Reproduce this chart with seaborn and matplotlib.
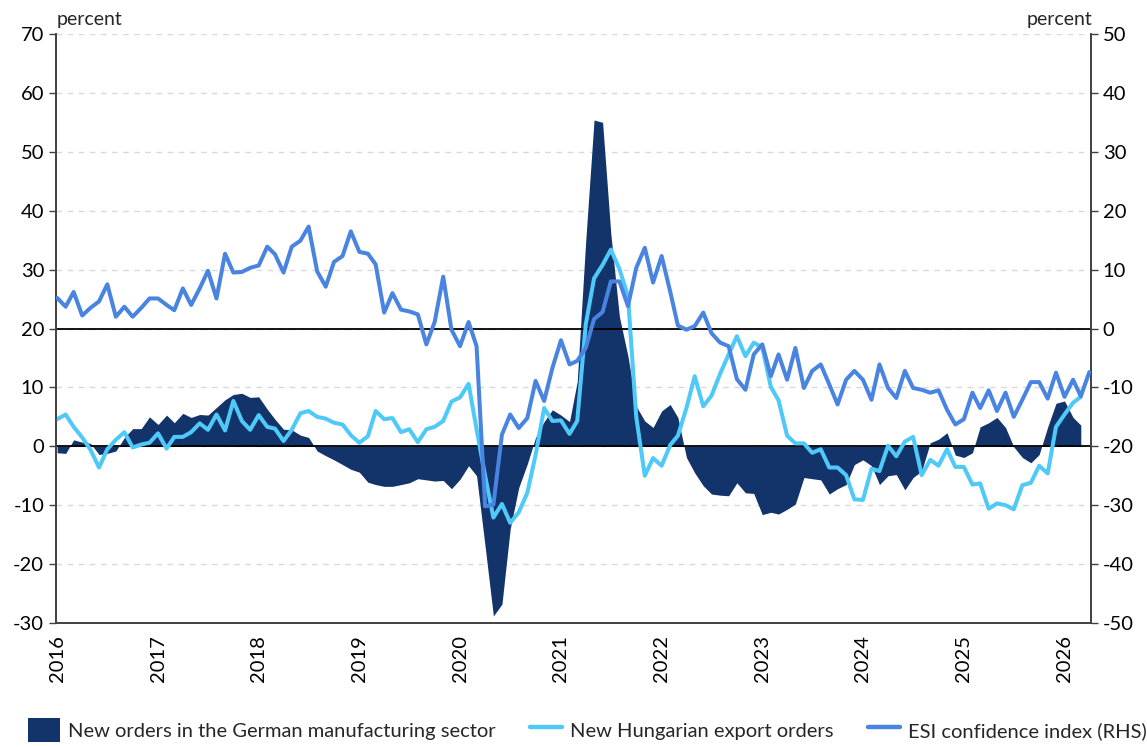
import pandas as pd
import matplotlib.pyplot as plt
import seaborn as sns
from matplotlib.patches import Patch
from matplotlib.lines import Line2D

# monthly data, Jan 2016 onwards
months = pd.date_range('2016-01-01', periods=124, freq='MS')

# New orders in German manufacturing (left axis, % yoy) - Jan 2016 .. Mar 2026
german = [-1.1, -1.2, 1.1, 0.7, 0.5, -1.4, -1.2, -0.8, 1.5, 3.0, 3.0, 5.0,
          3.7, 5.3, 4.0, 5.6, 4.9, 5.4, 5.3, 6.6, 7.9, 8.8, 9.0, 8.3,
          8.4, 6.3, 4.6, 2.9, 2.8, 1.9, 1.5, -0.8, -1.6, -2.3, -3.1, -3.9,
          -4.4, -6.1, -6.5, -6.8, -6.8, -6.5, -6.2, -5.5, -5.7, -5.9, -5.8, -7.2,
          -5.6, -3.3, -5.0, -17.0, -28.8, -26.8, -14.0, -7.0, -3.0, 1.5, 4.2, 6.2,
          5.3, 4.2, 11.0, 35.0, 55.4, 55.0, 36.0, 22.0, 15.3, 6.8, 4.3, 3.2,
          6.0, 7.1, 4.9, -1.9, -4.5, -6.7, -8.1, -8.3, -8.4, -6.2, -7.9, -8.0,
          -11.6, -11.2, -11.5, -10.7, -9.8, -5.3, -5.5, -5.7, -8.1, -7.2, -6.5, -3.1,
          -2.3, -3.3, -6.5, -5.0, -4.8, -7.4, -5.3, -4.2, 0.6, 1.2, 2.3, -1.5,
          -1.9, -1.1, 3.3, 4.0, 4.9, 3.2, -0.1, -1.9, -2.8, -1.4, 3.3, 7.3,
          7.7, 4.9, 3.6]

# New Hungarian export orders (left axis) - Jan 2016 .. Mar 2026
hungary = [4.6, 5.4, 3.3, 1.5, -0.6, -3.6, -0.5, 1.1, 2.4, -0.2, 0.3, 0.6,
           2.2, -0.4, 1.6, 1.6, 2.4, 3.9, 2.8, 5.4, 2.7, 7.7, 4.3, 2.8,
           5.3, 3.3, 3.0, 0.9, 2.8, 5.6, 6.0, 5.0, 4.7, 4.0, 3.7, 1.9,
           0.6, 1.7, 6.0, 4.6, 4.8, 2.4, 2.9, 0.7, 2.9, 3.3, 4.3, 7.6,
           8.3, 10.6, 2.9, -5.0, -12.1, -9.8, -13.0, -11.2, -7.9, -1.5, 6.5, 4.3,
           4.4, 2.1, 4.3, 20.7, 28.5, 30.8, 33.4, 30.1, 25.5, 5.0, -5.0, -2.0,
           -3.3, 0.2, 1.8, 6.5, 11.9, 6.8, 8.6, 12.3, 15.6, 18.7, 15.3, 17.6,
           16.8, 10.1, 7.8, 1.8, 0.5, 0.5, -1.1, -0.5, -3.6, -3.6, -4.9, -9.0,
           -9.1, -3.8, -4.2, 0.1, -1.7, 0.8, 1.6, -4.9, -2.3, -3.3, -0.5, -3.5,
           -3.5, -6.5, -6.3, -10.6, -9.7, -10.0, -10.7, -6.6, -6.2, -3.3, -4.6, 3.3,
           5.4, 7.4, 8.4]

# ESI confidence index (right axis) - Jan 2016 .. Apr 2026
esi = [5.2, 3.7, 6.2, 2.2, 3.5, 4.6, 7.5, 2.0, 3.7, 2.0, 3.5, 5.1,
       5.1, 4.0, 3.1, 6.8, 4.0, 6.8, 9.8, 5.1, 12.7, 9.5, 9.6, 10.3,
       10.7, 13.9, 12.6, 9.5, 13.9, 14.9, 17.3, 9.7, 7.1, 11.3, 12.3, 16.5,
       13.0, 12.7, 10.9, 2.7, 6.0, 3.2, 2.9, 2.4, -2.7, 1.1, 8.8, -0.2,
       -3.0, 1.1, -3.0, -30.2, -29.9, -18.0, -14.6, -16.9, -15.2, -8.9, -12.3, -6.7,
       -2.0, -6.1, -5.5, -3.3, 1.6, 2.8, 8.0, 8.0, 3.8, 10.3, 13.7, 7.8,
       12.3, 6.3, 0.5, -0.2, 0.4, 2.7, -0.8, -2.4, -3.0, -8.6, -10.4, -4.4,
       -2.7, -8.1, -4.4, -8.7, -3.3, -10.1, -7.2, -6.1, -9.5, -12.9, -8.7, -7.2,
       -8.7, -12.1, -6.1, -10.1, -11.8, -7.2, -10.1, -10.4, -10.9, -10.5, -13.8, -16.3,
       -15.4, -10.9, -13.5, -10.5, -14.0, -10.9, -15.0, -12.1, -9.1, -9.1, -11.9, -7.5,
       -11.6, -8.7, -11.5, -7.4]

years = list(range(2016, 2027))

navy = '#13336b'
light_blue = '#4fc9f8'
mid_blue = '#4a84e1'

sns.set_style('white')
plt.rcParams['font.family'] = ['Lato', 'DejaVu Sans']
plt.rcParams['font.size'] = 14.5
plt.rcParams['axes.unicode_minus'] = False

fig = plt.figure(figsize=(11.47, 7.47), dpi=100)
ax = fig.add_axes([56 / 1147, 1 - 623 / 747, (1091 - 56) / 1147, (623 - 34) / 747])
ax2 = ax.twinx()

df_de = pd.DataFrame({'date': months[:len(german)], 'value': german})
df_hu = pd.DataFrame({'date': months[:len(hungary)], 'value': hungary})
df_esi = pd.DataFrame({'date': months[:len(esi)], 'value': esi})

# grid + reference lines
ax.yaxis.grid(True, linestyle=(0, (4, 4)), color='#d9d9d9', linewidth=1)
ax.set_axisbelow(True)
ax.fill_between(df_de['date'], 0, df_de['value'], color=navy, linewidth=0, zorder=2)
ax.axhline(0, color='black', linewidth=1.3, zorder=2.5)
ax.axhline(20, color='black', linewidth=1.3, zorder=2.5)
sns.lineplot(data=df_hu, x='date', y='value', ax=ax, color=light_blue, linewidth=2.9, zorder=3)
sns.lineplot(data=df_esi, x='date', y='value', ax=ax2, color=mid_blue, linewidth=2.9, zorder=3)

ax.set_ylim(-30, 70)
ax2.set_ylim(-50, 50)
ax.set_yticks(range(-30, 71, 10))
ax2.set_yticks(range(-50, 51, 10))
ax.set_xlim(months[0] - pd.Timedelta(days=4), months[123] + pd.Timedelta(days=6))

ax.set_xticks([pd.Timestamp(f'{y}-01-01') for y in years])
ax.set_xticklabels([str(y) for y in years], rotation=90)
ax.set_xlabel('')
ax.set_ylabel('')
ax2.set_ylabel('')

for a in (ax, ax2):
    a.tick_params(axis='both', direction='out', length=5, width=1, colors='#404040',
                  labelcolor='black', labelsize=14.5)
    a.spines['top'].set_visible(False)
    for s in ('left', 'right', 'bottom'):
        a.spines[s].set_color('#404040')
        a.spines[s].set_linewidth(1.2)
ax.tick_params(axis='x', pad=4)

fig.text(57 / 1147, 1 - 20 / 747, 'percent', ha='left', va='center', fontsize=14)
fig.text(1092 / 1147, 1 - 20 / 747, 'percent', ha='right', va='center', fontsize=14)

handles = [Patch(facecolor=navy, edgecolor='none'),
           Line2D([0], [0], color=light_blue, linewidth=3.2),
           Line2D([0], [0], color=mid_blue, linewidth=3.2)]
labels = ['New orders in the German manufacturing sector',
          'New Hungarian export orders',
          'ESI confidence index (RHS)']
fig.legend(handles, labels, loc='lower center', bbox_to_anchor=(0.512, -0.018), ncol=3,
           frameon=False, fontsize=14.5, handlelength=1.6, handleheight=1.5,
           handletextpad=0.4, columnspacing=1.7)

plt.savefig('out.png', dpi=100)
